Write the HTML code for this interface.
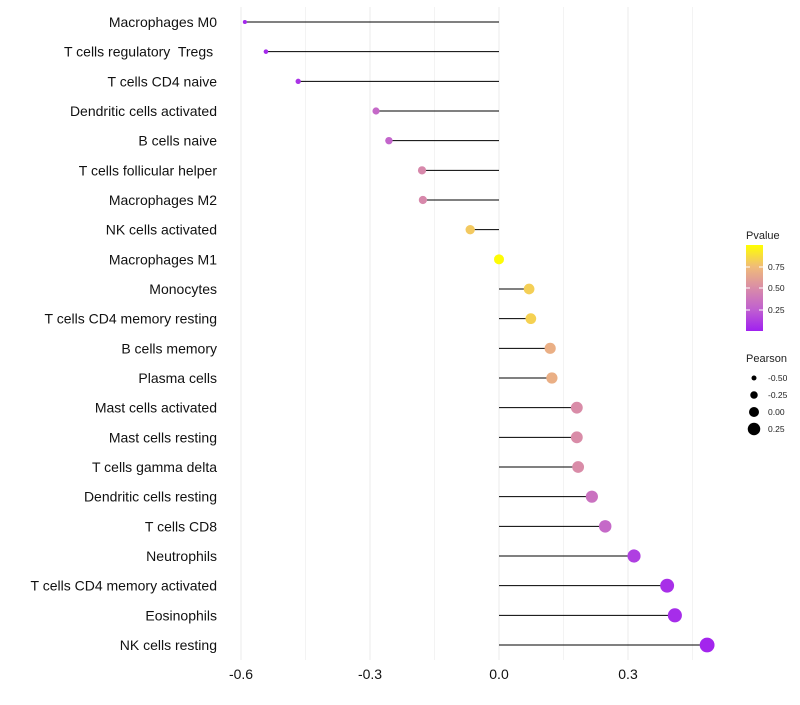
<!DOCTYPE html>
<html><head><meta charset="utf-8"><style>
body{margin:0;background:#fff;font-family:"Liberation Sans",sans-serif;}
</style></head><body>
<svg id="c" width="800" height="700" xmlns="http://www.w3.org/2000/svg">
<defs><linearGradient id="pg" x1="0" y1="1" x2="0" y2="0">
<stop offset="0" stop-color="#A020F0"/><stop offset="0.25" stop-color="#C060D0"/><stop offset="0.5" stop-color="#D98CA8"/><stop offset="0.75" stop-color="#F0BC78"/><stop offset="1" stop-color="#FFFF00"/></linearGradient></defs>
</svg>
<script>
const categories=["Macrophages M0","T cells regulatory  Tregs ","T cells CD4 naive","Dendritic cells activated","B cells naive","T cells follicular helper","Macrophages M2","NK cells activated","Macrophages M1","Monocytes","T cells CD4 memory resting","B cells memory","Plasma cells","Mast cells activated","Mast cells resting","T cells gamma delta","Dendritic cells resting","T cells CD8","Neutrophils","T cells CD4 memory activated","Eosinophils","NK cells resting"];
const pearson=[-0.591,-0.542,-0.467,-0.286,-0.256,-0.179,-0.177,-0.067,0.0,0.070,0.074,0.119,0.123,0.181,0.181,0.184,0.216,0.247,0.314,0.391,0.409,0.484];
const pvalues=[0.03,0.04,0.08,0.3,0.28,0.48,0.48,0.8,0.99,0.82,0.83,0.68,0.68,0.5,0.5,0.5,0.35,0.3,0.12,0.06,0.05,0.02];
const xTicks=[-0.6,-0.3,0.0,0.3];
const xTickLabels=["-0.6","-0.3","0.0","0.3"];
const svg=document.getElementById('c');const NS="http://www.w3.org/2000/svg";
const X=v=>499+v*430;const Y=i=>22+i*(645-22)/21;
function mk(t,a,p){const e=document.createElementNS(NS,t);for(const k in a)e.setAttribute(k,a[k]);(p||svg).appendChild(e);return e;}
function col(p){const st=[[0,[160,32,240]],[0.25,[192,96,208]],[0.5,[217,140,168]],[0.75,[240,188,120]],[1,[255,255,0]]];
for(let i=0;i<4;i++){const a=st[i],b=st[i+1];if(p<=b[0]){const t=(p-a[0])/(b[0]-a[0]);return 'rgb('+a[1].map((c,j)=>Math.round(c+(b[1][j]-c)*t)).join(',')+')';}}return 'rgb(255,255,0)';}
const rad=v=>Math.max(1.3,5+5*v);
[-0.6,-0.45,-0.3,-0.15,0,0.15,0.3,0.45].forEach((v,k)=>{const l=mk('line',{x1:X(v),x2:X(v),y1:7,y2:660,stroke:'#ebebeb','stroke-width':k%2===0?1:0.6});

});
xTicks.forEach((v,i)=>{const t=mk('text',{x:X(v),y:679,'text-anchor':'middle','font-size':14,fill:'#111'});t.textContent=xTickLabels[i];

});
categories.forEach((c,i)=>{const t=mk('text',{x:217,y:Y(i)+5,'text-anchor':'end','font-size':14,fill:'#111','xml:space':'preserve'});t.style.whiteSpace='pre';t.textContent=c;


const l=mk('line',{x1:X(0),x2:X(pearson[i]),y1:Y(i),y2:Y(i),stroke:'#000','stroke-width':1});


const d=mk('circle',{cx:X(pearson[i]),cy:Y(i),r:rad(pearson[i]),fill:col(pvalues[i])});

});
let t=mk('text',{x:746,y:239,'font-size':11,fill:'#222'});t.textContent='Pvalue';


const bar=mk('rect',{x:746,y:245,width:17,height:86,fill:'url(#pg)'});


[[0.75,267],[0.5,288],[0.25,310]].forEach(([v,y])=>{mk('line',{x1:746,x2:750,y1:y,y2:y,stroke:'#fff'});mk('line',{x1:759,x2:763,y1:y,y2:y,stroke:'#fff'});
const s=mk('text',{x:768,y:y+3,'font-size':8.5,fill:'#222'});s.textContent=v.toFixed(2);

});
t=mk('text',{x:746,y:362,'font-size':11,fill:'#222'});t.textContent='Pearson';


[-0.5,-0.25,0,0.25].forEach((v,i)=>{const y=378+i*17;const c=mk('circle',{cx:754,cy:y,r:rad(v),fill:'#000'});


const s=mk('text',{x:768,y:y+3,'font-size':8.5,fill:'#222'});s.textContent=v.toFixed(2);

});
</script>
</body></html>
